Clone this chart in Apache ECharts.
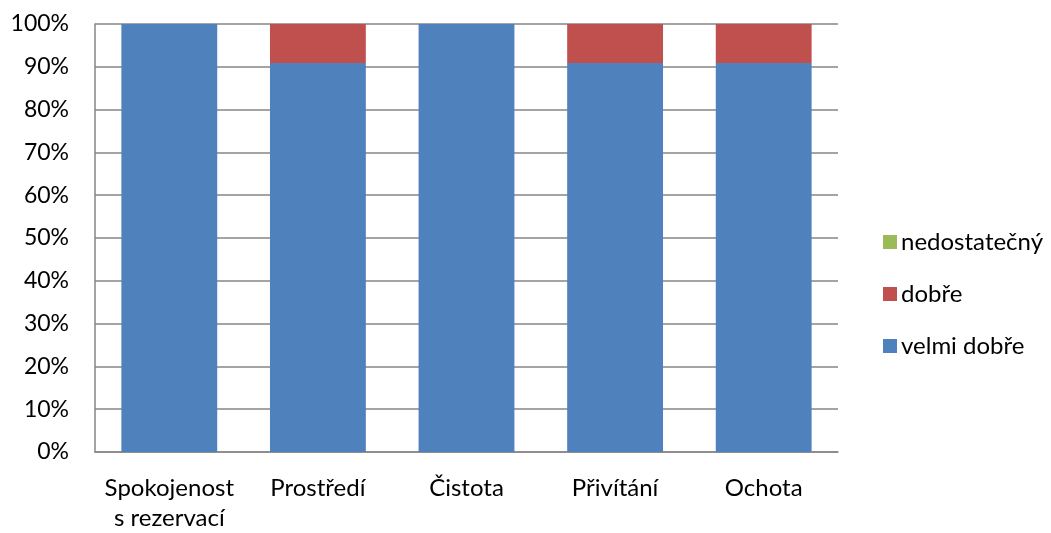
<!DOCTYPE html>
<html>
<head>
<meta charset="utf-8">
<script src="https://cdn.jsdelivr.net/npm/echarts@6/dist/echarts.min.js"></script>
<style>
  html, body { margin: 0; padding: 0; background: #fff; }
  #chart { width: 1051px; height: 533px; }
</style>
</head>
<body>
<div id="chart"></div>
<script>
// Hodnocení služeb – podíl odpovědí v kategoriích (%)
const categories = ['Spokojenost\ns rezervací', 'Prostředí', 'Čistota', 'Přivítání', 'Ochota'];
const velmiDobre = [100, 90.9, 100, 90.9, 90.9];
const dobre = [0, 9.1, 0, 9.1, 9.1];
const nedostatecny = [0, 0, 0, 0, 0];
const yTicks = [0, 10, 20, 30, 40, 50, 60, 70, 80, 90, 100];

const font = 'Lato, "Open Sans", sans-serif';
const chart = echarts.init(document.getElementById('chart'), null, { renderer: 'canvas' });

chart.setOption({
  animation: false,
  grid: { left: 95, right: 213, top: 24, bottom: 81, containLabel: false },
  legend: {
    orient: 'vertical',
    left: 878,
    top: 225,
    itemWidth: 14,
    itemHeight: 14,
    itemGap: 28,
    icon: 'rect',
    textStyle: { fontFamily: font, fontSize: 24, color: '#000', padding: [0, 0, 0, -1] },
    data: ['nedostatečný', 'dobře', 'velmi dobře']
  },
  xAxis: {
    type: 'category',
    data: categories,
    axisLine: { lineStyle: { color: '#868686', width: 1.5 } },
    axisTick: { show: false },
    axisLabel: {
      fontFamily: font, fontSize: 24, color: '#000',
      margin: 21, lineHeight: 30, interval: 0
    }
  },
  yAxis: {
    type: 'value',
    min: yTicks[0],
    max: yTicks[yTicks.length - 1],
    interval: 10,
    axisLine: { show: true, lineStyle: { color: '#868686', width: 1.5 } },
    axisTick: { show: false },
    splitLine: { lineStyle: { color: '#868686', width: 1.5 } },
    axisLabel: {
      fontFamily: font, fontSize: 23, color: '#000', margin: 26,
      formatter: v => v + '%'
    }
  },
  series: [
    {
      name: 'velmi dobře', type: 'bar', stack: 'total', data: velmiDobre,
      barWidth: '64.5%', itemStyle: { color: '#4F81BD' }
    },
    {
      name: 'dobře', type: 'bar', stack: 'total', data: dobre,
      itemStyle: { color: '#C0504D' }
    },
    {
      name: 'nedostatečný', type: 'bar', stack: 'total', data: nedostatecny,
      itemStyle: { color: '#9BBB59' }
    }
  ]
});
</script>
</body>
</html>
